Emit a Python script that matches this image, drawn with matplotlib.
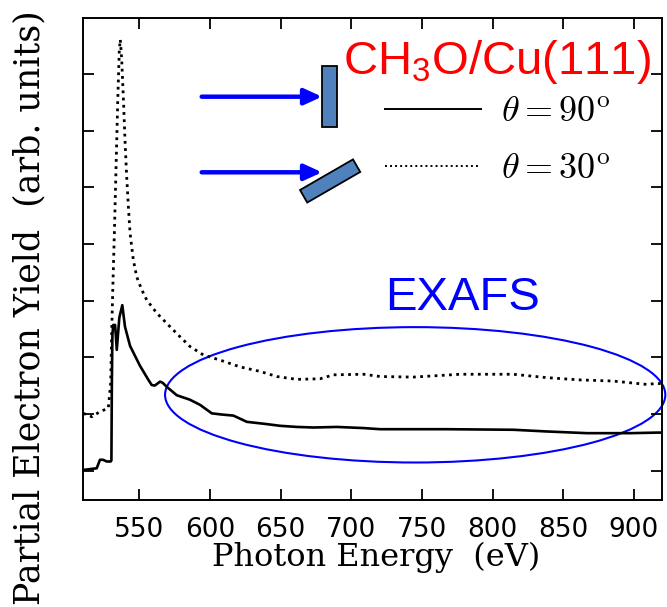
import numpy as np
import matplotlib
matplotlib.use('Agg')
from matplotlib import pyplot as plt
from matplotlib import patches, transforms

# O K-edge spectra of methoxy on Cu(111), two incidence angles
energy_90 = [510.2, 519.9, 522.2, 524.4, 527.0, 529.8, 530.3, 530.6, 531.0, 531.6,
             532.9, 534.1, 535.9, 538.0, 539.9, 543.5, 550.5, 556.0, 558.8, 561.0,
             564.7, 566.5, 569.4, 576.5, 585.9, 593.0, 601.3, 608.0, 616.6, 626.1,
             640.2, 649.6, 661.5, 673.2, 689.8, 708.6, 720.4, 767.6, 814.6, 838.4,
             866.7, 897.4, 916.3, 919.6]
yield_90 = [0.01, 0.04, 0.19, 0.19, 0.16, 0.16, 0.18, 1.50, 2.40, 2.57,
            2.57, 2.13, 2.70, 2.92, 2.54, 2.20, 1.85, 1.62, 1.51, 1.50,
            1.57, 1.55, 1.48, 1.33, 1.25, 1.16, 1.01, 0.99, 0.97, 0.86,
            0.82, 0.79, 0.77, 0.76, 0.77, 0.75, 0.73, 0.73, 0.72, 0.69,
            0.66, 0.66, 0.67, 0.67]

energy_30 = [510.4, 516.4, 522.2, 528.1, 529.8, 530.5, 531.2, 532.4, 533.6, 534.8,
             535.9, 536.6, 537.6, 538.3, 539.0, 539.9, 541.1, 542.3, 543.5, 545.8,
             548.2, 551.8, 555.3, 562.4, 569.4, 576.5, 585.9, 595.4, 607.2, 621.3,
             635.5, 647.3, 661.5, 677.9, 687.4, 708.6, 720.4, 743.8, 777.1, 814.6,
             838.4, 862.0, 885.3, 909.2, 916.3, 919.6]
yield_30 = [1.01, 0.95, 1.04, 1.10, 1.55, 2.43, 3.14, 4.20, 5.37, 6.55,
            7.43, 7.61, 7.25, 6.84, 6.43, 5.84, 5.19, 4.66, 4.19, 3.72,
            3.42, 3.19, 3.01, 2.78, 2.60, 2.42, 2.19, 2.04, 1.95, 1.83,
            1.75, 1.66, 1.61, 1.62, 1.69, 1.70, 1.66, 1.65, 1.70, 1.70,
            1.64, 1.60, 1.58, 1.52, 1.54, 1.53]

xticks = [550, 600, 650, 700, 750, 800, 850, 900]
yticks = [0, 1, 2, 3, 4, 5, 6, 7]

plt.rcParams['mathtext.fontset'] = 'custom'
plt.rcParams['mathtext.rm'] = 'Liberation Sans'
plt.rcParams['mathtext.it'] = 'Liberation Sans:italic'
plt.rcParams['mathtext.bf'] = 'Liberation Sans:bold'

W, H = 667, 607
fig = plt.figure(figsize=(W / 100, H / 100), dpi=100)
ax = fig.add_axes([83 / W, 1 - 500 / H, 578.7 / W, 482 / H])

l90, = ax.plot(energy_90, yield_90, color='black', lw=1.9, label=r'$\theta = 90^{\rm o}$')
l30, = ax.plot(energy_30, yield_30, color='black', lw=2.0, ls=(0, (1, 1.6)),
               label=r'$\theta = 30^{\rm o}$')

ax.set_xlim(510.2, 919.6)
ax.set_ylim(-0.52, 7.99)
ax.set_xticks(xticks)
ax.set_yticks(yticks)
ax.set_yticklabels([])
ax.tick_params(direction='in', length=8, width=1.3, top=True, right=True,
               labelsize=19, pad=12)
for lab in ax.get_xticklabels():
    lab.set_family('DejaVu Sans')
for sp in ax.spines.values():
    sp.set_linewidth(1.4)

ax.set_xlabel('Photon Energy  (eV)', family='DejaVu Serif', fontsize=23, va='baseline')
ax.xaxis.set_label_coords((376.5 - 83) / 578.7, (500 - 566) / 482)
ax.set_ylabel('Partial Electron Yield  (arb. units)', family='DejaVu Serif',
              fontsize=25, va='center')
ax.yaxis.set_label_coords((29 - 83) / 578.7, (500 - 308) / 482)

# EXAFS region
ell = patches.Ellipse((745.2, 1.337), 353.9, 2.39, fill=False, ec='blue', lw=1.5,
                      clip_on=False)
ax.add_patch(ell)
ax.text(778.8, 2.84, 'EXAFS', color='blue', fontsize=34, family='Liberation Sans',
        ha='center', va='baseline')
ax.text(694.2, 7.005, r'CH$_3$O/Cu(111)', color='red', fontsize=34,
        family='Liberation Sans', ha='left', va='baseline')

leg = ax.legend(handles=[l90, l30], loc='upper left', bbox_to_anchor=(0.522, 0.840),
                frameon=False, fontsize=26, handlelength=2.67, handletextpad=0.55,
                borderpad=0, borderaxespad=0, labelspacing=0.62)
for t in leg.get_texts():
    t.set_math_fontfamily('cm')
for ln in leg.get_lines():
    ln.set_linewidth(1.4)

# sample sketch: beam arrows and tilted surfaces (pixel coordinates, y down)
px = transforms.Affine2D().scale(1 / W, -1 / H).translate(0, 1) + fig.transFigure
for y in (96.7, 172.3):
    arr = patches.FancyArrowPatch((201.7, y), (322, y), transform=px,
                                  arrowstyle='-|>,head_length=0.7,head_width=0.32',
                                  mutation_scale=15, lw=3.2, color='blue',
                                  shrinkA=0, shrinkB=0)
    fig.patches.append(arr)
fig.patches.append(patches.Rectangle((321.7, 66), 15.6, 61.3, transform=px,
                                     fc='#4F81BD', ec='black', lw=1.3))
fig.patches.append(patches.Rectangle((300, 190), 61.2, 14.5, angle=-30, transform=px,
                                     fc='#4F81BD', ec='black', lw=1.3))

plt.savefig('out.png', dpi=100)
